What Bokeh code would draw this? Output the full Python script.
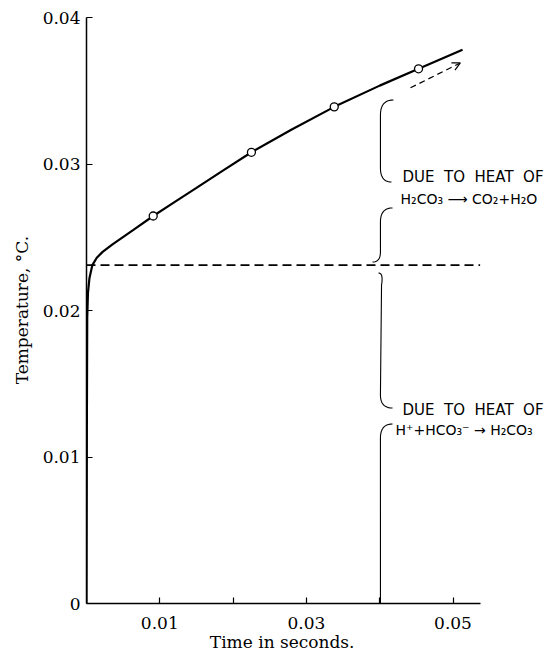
from bokeh.plotting import figure
from bokeh.models import Range1d, FixedTicker, Label, Arrow, OpenHead
from bokeh.embed import file_html
from bokeh.resources import INLINE
import numpy as np

# ---- data ----
time_s = [0.0, 0.00005, 0.0001, 0.0002, 0.0004, 0.0008, 0.0014, 0.0022, 0.0035,
          0.0064, 0.0091, 0.0120, 0.0150, 0.0185, 0.0225, 0.0280, 0.0338, 0.0400,
          0.0453, 0.0513]
temp_c = [0.0, 0.0120, 0.0195, 0.0212, 0.0222, 0.0231, 0.0236, 0.0240, 0.0245,
          0.0255, 0.02645, 0.0274, 0.02837, 0.02951, 0.0308, 0.03236, 0.0339, 0.03535,
          0.0365, 0.0378]
point_t = [0.0091, 0.0225, 0.0338, 0.0453]
point_T = [0.02645, 0.0308, 0.0339, 0.0365]
plateau_T = 0.0231
x_ticks = [0.01, 0.02, 0.03, 0.04, 0.05]
x_tick_labels = ["0.01", "", "0.03", "", "0.05"]
y_ticks = [0.0, 0.01, 0.02, 0.03, 0.04]
y_tick_labels = ["0", "0.01", "0.02", "0.03", "0.04"]
x_axis_end = 0.0537
brace_x = 0.0401

SERIF = "DejaVu Serif"
SANS = "DejaVu Sans"
NB = "\u00a0"

p = figure(width=553, height=659, output_backend="svg", toolbar_location=None,
           x_range=Range1d(0, 467 / 7330), y_range=Range1d(0, 603 / 14650),
           min_border_left=86, min_border_right=0, min_border_top=0, min_border_bottom=56)
p.outline_line_color = None
p.xgrid.visible = False
p.ygrid.visible = False
p.background_fill_color = "white"

for ax in (p.xaxis[0], p.yaxis[0]):
    ax.axis_line_width = 1.5
    ax.axis_line_color = "black"
    ax.major_tick_in = 6
    ax.major_tick_out = 0
    ax.major_tick_line_width = 1.2
    ax.minor_tick_line_color = None
    ax.major_label_text_font = SERIF
    ax.major_label_text_font_size = "17px"
    ax.major_label_text_color = "black"
    ax.axis_label_text_font = SERIF
    ax.axis_label_text_font_size = "17px"
    ax.axis_label_text_font_style = "normal"
    ax.axis_label_text_color = "black"

p.xaxis.bounds = (0, x_axis_end)
p.yaxis.bounds = (0, 0.04)
p.xaxis.ticker = FixedTicker(ticks=x_ticks)
p.yaxis.ticker = FixedTicker(ticks=y_ticks)
p.xaxis.major_label_overrides = {t: l for t, l in zip(x_ticks, x_tick_labels)}
p.yaxis.major_label_overrides = {t: l for t, l in zip(y_ticks, y_tick_labels)}
p.xaxis.major_label_standoff = 13
p.yaxis.major_label_standoff = 6
# trailing no-break spaces shift the titles so they centre on the drawn axis span
p.xaxis.axis_label = "Time in seconds." + NB * 14
p.yaxis.axis_label = "Temperature, °C." + NB * 3
p.xaxis.axis_label_standoff = 0
p.yaxis.axis_label_standoff = 8

# plateau dashed line
p.line([0, x_axis_end], [plateau_T, plateau_T], line_color="black",
       line_width=1.6, line_dash="9 5")

# main curve
p.line(time_s, temp_c, line_color="black", line_width=2.2)
p.scatter(point_t, point_T, marker="circle", size=8, fill_color="white",
          line_color="black", line_width=1.3)

# dashed arrow
p.add_layout(Arrow(end=OpenHead(size=8, line_width=1.2, line_color="black"),
                   x_start=0.0442, y_start=0.0352, x_end=0.0510, y_end=0.0369,
                   line_dash="6 4", line_width=1.2, line_color="black"))

# braces
def quad(p0, c, p1, n=12):
    s = np.linspace(0, 1, n)
    x = (1 - s) ** 2 * p0[0] + 2 * (1 - s) * s * c[0] + s ** 2 * p1[0]
    y = (1 - s) ** 2 * p0[1] + 2 * (1 - s) * s * c[1] + s ** 2 * p1[1]
    return list(x), list(y)

def brace_path(segs):
    xs, ys = [], []
    for kind, pts in segs:
        if kind == "q":
            x, y = quad(*pts)
        else:
            x, y = [pts[0][0], pts[1][0]], [pts[0][1], pts[1][1]]
        xs += x
        ys += y
    return xs, ys

bx = brace_x
paths = [
    brace_path([("q", ((0.04188, 0.03437), (bx, 0.03437), (bx, 0.03334))),
                ("l", ((bx, 0.03334), (bx, 0.02973))),
                ("q", ((bx, 0.02973), (bx, 0.02877), (0.04161, 0.02877)))]),
    brace_path([("q", ((0.04175, 0.02700), (bx, 0.02700), (bx, 0.02604))),
                ("l", ((bx, 0.02604), (bx, 0.02399))),
                ("q", ((bx, 0.02399), (bx, 0.02331), (0.03902, 0.02331)))]),
    brace_path([("q", ((0.03984, 0.02256), (0.04052, 0.02256), (0.04025, 0.02174))),
                ("l", ((0.04025, 0.02174), (bx, 0.01423))),
                ("q", ((bx, 0.01423), (bx, 0.01334), (0.04175, 0.01334)))]),
    brace_path([("q", ((0.04175, 0.01225), (bx, 0.01225), (bx, 0.01130))),
                ("l", ((bx, 0.01130), (bx, 0.0)))]),
]
p.multi_line([q[0] for q in paths], [q[1] for q in paths],
             line_color="black", line_width=1.1)

# annotation texts
heading = (NB * 2).join(["DUE", "TO", "HEAT", "OF"])
notes = [
    (0.04311, 0.02911, heading, "15px"),
    (0.04284, 0.02762, "H\u2082CO\u2083" + NB + "\u27f6" + NB + "CO\u2082+H\u2082O", "14px"),
    (0.04311, 0.01320, heading, "15px"),
    (0.04216, 0.01184, "H\u207a+HCO\u2083\u207b" + NB + "\u2192" + NB + "H\u2082CO\u2083", "14px"),
]
for x, y, t, fs in notes:
    p.add_layout(Label(x=x, y=y, text=t, text_font=SANS, text_font_size=fs,
                       text_baseline="middle", text_align="left", text_color="black"))

open("out.html", "w").write(file_html(p, INLINE))
